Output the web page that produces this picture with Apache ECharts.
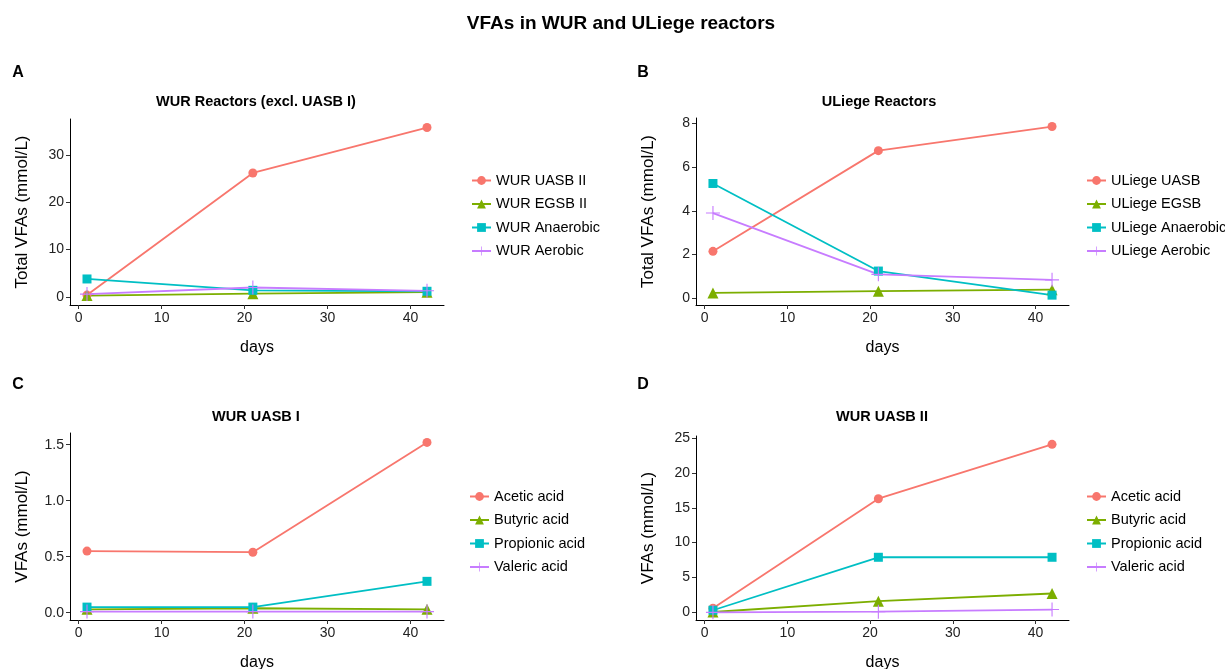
<!DOCTYPE html>
<html>
<head>
<meta charset="utf-8">
<title>VFAs in WUR and ULiege reactors</title>
<script src="https://cdn.jsdelivr.net/npm/echarts@6/dist/echarts.min.js"></script>
<style>
  html, body { margin: 0; padding: 0; background: #fff; }
  #chart { width: 1225px; height: 669px; }
</style>
</head>
<body>
<div id="chart"></div>
<script>
// sampling days
const days = [1, 21, 42];

// panel A - WUR reactors (total VFAs, mmol/L)
const wurNames = ['WUR UASB II', 'WUR EGSB II', 'WUR Anaerobic', 'WUR Aerobic'];
const wurUasb2 = [0.4, 26.2, 35.8];
const wurEgsb2 = [0.3, 0.7, 1.0];
const wurAnaerobic = [3.8, 1.4, 1.2];
const wurAerobic = [0.6, 2.0, 1.3];

// panel B - ULiege reactors
const ulgNames = ['ULiege UASB', 'ULiege EGSB', 'ULiege Anaerobic', 'ULiege Aerobic'];
const ulgUasb = [2.15, 6.75, 7.85];
const ulgEgsb = [0.25, 0.33, 0.4];
const ulgAnaerobic = [5.25, 1.25, 0.15];
const ulgAerobic = [3.9, 1.1, 0.85];

// panel C / D - individual acids
const acidNames = ['Acetic acid', 'Butyric acid', 'Propionic acid', 'Valeric acid'];
const uasb1Acetic = [0.55, 0.54, 1.52];
const uasb1Butyric = [0.03, 0.04, 0.03];
const uasb1Propionic = [0.05, 0.05, 0.28];
const uasb1Valeric = [0.01, 0.01, 0.01];
const uasb2Acetic = [0.6, 16.3, 24.1];
const uasb2Butyric = [0.05, 1.6, 2.7];
const uasb2Propionic = [0.3, 7.9, 7.9];
const uasb2Valeric = [0.0, 0.1, 0.4];

// tick labels
const xTicks = [0, 10, 20, 30, 40];
const yTicksA = [0, 10, 20, 30];
const yTicksB = [0, 2, 4, 6, 8];
const yTicksC = [0, 0.5, 1.0, 1.5];
const yTicksD = [0, 5, 10, 15, 20, 25];

const colors = ['#F8766D', '#7CAE00', '#00BFC4', '#C77CFF'];
const plusPath = 'path://M-0.08,-1h0.16v0.92h0.92v0.16h-0.92v0.92h-0.16v-0.92h-0.92v-0.16h0.92z';
const symbols = ['circle', 'triangle', 'rect', plusPath];
const symbolSizes = [9, 11, 9, 14];
const FONT = 'Liberation Sans, Arial, sans-serif';

var chartDom = document.getElementById('chart');
var myChart = echarts.init(chartDom, null, { renderer: 'canvas' });

// panel layout: grid boxes (no auto-shrinking to fit axis names)
const grids = [
  { left: 70, top: 119, width: 374, height: 186 },
  { left: 696, top: 118, width: 373, height: 187 },
  { left: 70, top: 433, width: 374, height: 187 },
  { left: 696, top: 436, width: 373, height: 184 }
].map(g => Object.assign(g, { outerBoundsMode: 'none', containLabel: false }));

const yRanges = [
  { min: -1.7, max: 37.6, ticks: yTicksA, fmt: v => String(v) },
  { min: -0.3, max: 8.24, ticks: yTicksB, fmt: v => String(v) },
  { min: -0.065, max: 1.604, ticks: yTicksC, fmt: v => v.toFixed(1) },
  { min: -1.1, max: 25.3, ticks: yTicksD, fmt: v => String(v) }
];
const yTitles = ['Total VFAs (mmol/L)', 'Total VFAs (mmol/L)', 'VFAs (mmol/L)', 'VFAs (mmol/L)'];

const xAxes = grids.map((g, i) => ({
  type: 'value',
  gridIndex: i,
  min: -1.05,
  max: 44.05,
  name: 'days',
  nameLocation: 'middle',
  nameGap: 35,
  nameTextStyle: { fontFamily: FONT, fontSize: 16, color: '#000' },
  axisLine: { onZero: false, lineStyle: { color: '#000', width: 1 } },
  axisTick: { length: 4, customValues: xTicks, lineStyle: { color: '#333' } },
  axisLabel: { customValues: xTicks, fontFamily: FONT, fontSize: 14, color: '#222', margin: 6 },
  splitLine: { show: false }
}));

const yAxes = grids.map((g, i) => ({
  type: 'value',
  gridIndex: i,
  min: yRanges[i].min,
  max: yRanges[i].max,
  name: yTitles[i],
  nameLocation: 'middle',
  nameRotate: 90,
  nameGap: 39,
  nameTextStyle: { fontFamily: FONT, fontSize: 17, color: '#000' },
  axisLine: { show: true, onZero: false, lineStyle: { color: '#000', width: 1 } },
  axisTick: { show: true, length: 4, customValues: yRanges[i].ticks, lineStyle: { color: '#333' } },
  axisLabel: {
    customValues: yRanges[i].ticks,
    fontFamily: FONT, fontSize: 14, color: '#222', margin: 6,
    formatter: yRanges[i].fmt
  },
  splitLine: { show: false }
}));

function makeSeries(names, valueLists, gridIdx) {
  return names.map((name, k) => ({
    name: name,
    type: 'line',
    xAxisIndex: gridIdx,
    yAxisIndex: gridIdx,
    data: days.map((d, j) => [d, valueLists[k][j]]),
    symbol: symbols[k],
    symbolSize: symbolSizes[k],
    showAllSymbol: true,
    color: colors[k],
    lineStyle: { width: 1.8, color: colors[k] },
    itemStyle: { color: colors[k] },
    emphasis: { disabled: true },
    animation: false
  }));
}

const series = [].concat(
  makeSeries(wurNames, [wurUasb2, wurEgsb2, wurAnaerobic, wurAerobic], 0),
  makeSeries(ulgNames, [ulgUasb, ulgEgsb, ulgAnaerobic, ulgAerobic], 1),
  makeSeries(acidNames, [uasb1Acetic, uasb1Butyric, uasb1Propionic, uasb1Valeric], 2),
  makeSeries(acidNames, [uasb2Acetic, uasb2Butyric, uasb2Propionic, uasb2Valeric], 3)
);

function makeLegend(names, left, top) {
  return {
    orient: 'vertical',
    left: left,
    top: top,
    padding: 0,
    itemWidth: 19,
    itemHeight: 11,
    itemGap: 8.5,
    selectedMode: false,
    data: names,
    textStyle: { fontFamily: FONT, fontSize: 14.5, color: '#000', padding: [0, 0, 0, 0] }
  };
}

// titles: main, panel letters, panel headings
const titles = [
  { text: 'VFAs in WUR and ULiege reactors', left: 621, top: 14, size: 19 },
  { text: 'A', left: 18, top: 65, size: 16 },
  { text: 'B', left: 643, top: 65, size: 16 },
  { text: 'C', left: 18, top: 377, size: 16 },
  { text: 'D', left: 643, top: 377, size: 16 },
  { text: 'WUR Reactors (excl. UASB I)', left: 256, top: 94, size: 14.5 },
  { text: 'ULiege Reactors', left: 879, top: 94, size: 14.5 },
  { text: 'WUR UASB I', left: 256, top: 409, size: 14.5 },
  { text: 'WUR UASB II', left: 882, top: 409, size: 14.5 }
].map(t => ({
  text: t.text,
  left: t.left,
  top: t.top,
  textAlign: 'center',
  padding: 0,
  textStyle: { fontFamily: FONT, fontWeight: 'bold', fontSize: t.size, color: '#000' }
}));

var option = {
  backgroundColor: '#ffffff',
  animation: false,
  title: titles,
  grid: grids,
  xAxis: xAxes,
  yAxis: yAxes,
  legend: [
    makeLegend(wurNames, 471, 173),
    makeLegend(ulgNames, 1086, 173),
    makeLegend(acidNames, 469, 489),
    makeLegend(acidNames, 1086, 489)
  ],
  series: series
};

myChart.setOption(option);

window.addEventListener('resize', function() {
  myChart.resize();
});
</script>
</body>
</html>
